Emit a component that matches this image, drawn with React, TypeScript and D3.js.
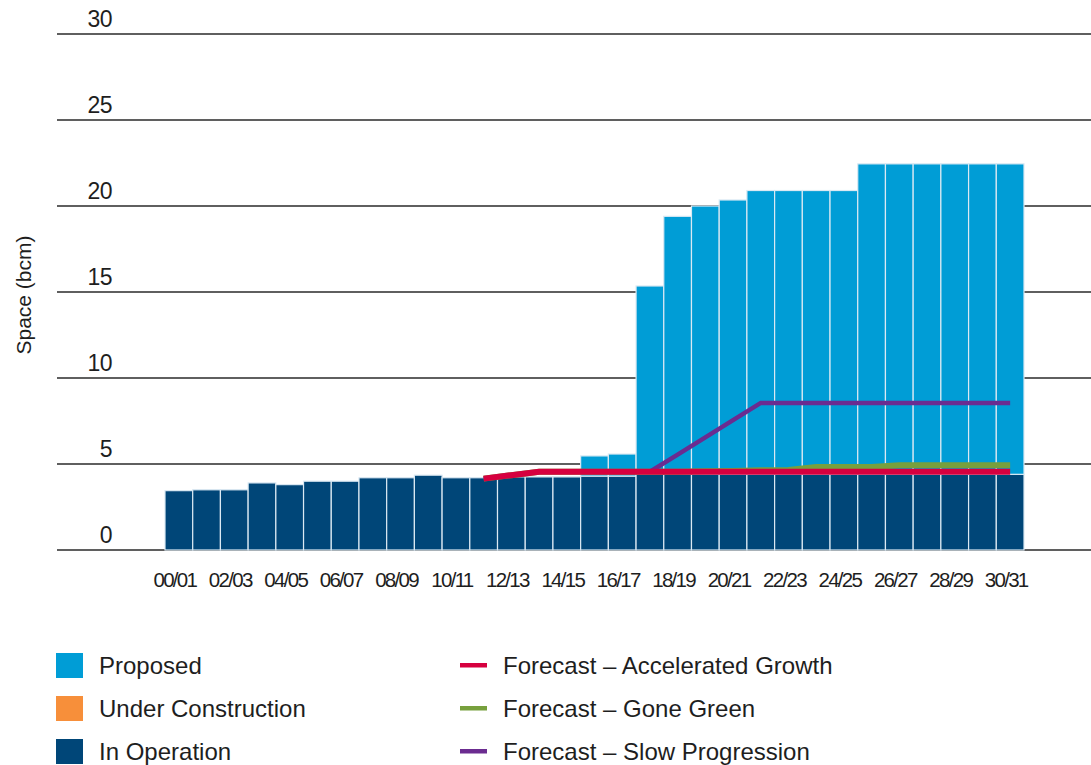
import React from 'react'
import * as d3 from 'd3'

// gas storage space, bcm
const years = [
  '00/01', '01/02', '02/03', '03/04', '04/05', '05/06', '06/07', '07/08',
  '08/09', '09/10', '10/11', '11/12', '12/13', '13/14', '14/15', '15/16',
  '16/17', '17/18', '18/19', '19/20', '20/21', '21/22', '22/23', '23/24',
  '24/25', '25/26', '26/27', '27/28', '28/29', '29/30', '30/31'
]
const tickLabels = [
  '00/01', '02/03', '04/05', '06/07', '08/09', '10/11', '12/13', '14/15',
  '16/17', '18/19', '20/21', '22/23', '24/25', '26/27', '28/29', '30/31'
]
const yTicks = [0, 5, 10, 15, 20, 25, 30]

const inOperation = [
  3.45, 3.5, 3.5, 3.9, 3.8, 4.0, 4.0, 4.2, 4.2, 4.35, 4.2, 4.2, 4.25, 4.25, 4.25, 4.3,
  4.3, 4.4, 4.4, 4.4, 4.4, 4.4, 4.4, 4.4, 4.4, 4.4, 4.4, 4.4, 4.4, 4.4, 4.4
]
const underConstruction = [
  0, 0, 0, 0, 0, 0, 0, 0, 0, 0, 0, 0, 0, 0, 0, 0,
  0, 0, 0, 0, 0, 0, 0, 0, 0, 0, 0, 0, 0, 0, 0
]
const proposed = [
  0, 0, 0, 0, 0, 0, 0, 0, 0, 0, 0, 0, 0, 0, 0, 1.17,
  1.28, 10.95, 15.0, 15.6, 15.95, 16.5, 16.5, 16.5, 16.5, 18.05, 18.05, 18.05, 18.05, 18.05, 18.05
]

const accelerated = [
  null, null, null, null, null, null, null, null, null, null, null, 4.15, 4.35, 4.55, 4.55, 4.55,
  4.55, 4.55, 4.55, 4.55, 4.55, 4.55, 4.55, 4.55, 4.55, 4.55, 4.55, 4.55, 4.55, 4.55, 4.55
]
const goneGreen = [
  null, null, null, null, null, null, null, null, null, null, null, 4.15, 4.35, 4.55, 4.55, 4.55,
  4.55, 4.55, 4.55, 4.58, 4.6, 4.63, 4.65, 4.83, 4.83, 4.83, 4.93, 4.93, 4.93, 4.93, 4.93
]
const slowProgression = [
  null, null, null, null, null, null, null, null, null, null, null, 4.15, 4.35, 4.55, 4.55, 4.55,
  4.55, 4.55, 5.55, 6.55, 7.55, 8.55, 8.55, 8.55, 8.55, 8.55, 8.55, 8.55, 8.55, 8.55, 8.55
]

const C = {
  proposed: '#009dd6',
  construction: '#f78f3a',
  operation: '#004678',
  red: '#d6003f',
  green: '#77a03d',
  purple: '#6b2c90',
  text: '#1e1e1e'
}

const W = 1091
const H = 765
const font = '"Liberation Sans", Arial, sans-serif'

export default function App() {
  const x = d3.scaleBand<string>().domain(years).range([165, 1024]).padding(0)
  const y = d3.scaleLinear().domain([0, 30]).range([550, 34])

  const line = d3
    .line<number | null>()
    .defined(d => d != null)
    .x((_, i) => (x(years[i]) as number) + x.bandwidth() / 2)
    .y(d => y(d as number))

  const barRows = years.map((yr, i) => {
    const op = inOperation[i]
    const uc = underConstruction[i]
    const pr = proposed[i]
    return { yr, segs: [
      { y0: 0, y1: op, c: C.operation },
      { y0: op, y1: op + uc, c: C.construction },
      { y0: op + uc, y1: op + uc + pr, c: C.proposed }
    ] }
  })

  const legendLeft = [
    { label: 'Proposed', c: C.proposed },
    { label: 'Under Construction', c: C.construction },
    { label: 'In Operation', c: C.operation }
  ]
  const legendRight = [
    { label: 'Forecast – Accelerated Growth', c: C.red },
    { label: 'Forecast – Gone Green', c: C.green },
    { label: 'Forecast – Slow Progression', c: C.purple }
  ]

  return (
    <svg width={W} height={H} style={{ position: 'absolute', left: 0, top: 0 }} fontFamily={font}>
      <rect width={W} height={H} fill="#fff" />

      {/* grid + y labels */}
      {yTicks.map(t => (
        <g key={t}>
          <line x1={57} x2={W} y1={y(t)} y2={y(t)} stroke="#2a2a2a" strokeWidth={1.5} />
          <text x={112} y={y(t) - 7} textAnchor="end" fontSize={23} letterSpacing={-0.5} fill={C.text}>{t}</text>
        </g>
      ))}

      <text
        transform={`translate(31,295) rotate(-90)`}
        textAnchor="middle"
        fontSize={21}
        fill={C.text}
      >Space (bcm)</text>

      {/* stacked bars */}
      {barRows.map(b => (
        <g key={b.yr}>
          {b.segs.filter(s => s.y1 > s.y0).map((s, j) => (
            <rect
              key={j}
              x={x(b.yr)}
              width={x.bandwidth()}
              y={y(s.y1)}
              height={y(s.y0) - y(s.y1)}
              fill={s.c}
              stroke="#dbe9f3"
              strokeWidth={1.2}
            />
          ))}
        </g>
      ))}

      {/* forecast lines */}
      <path d={line(goneGreen) || ''} fill="none" stroke={C.green} strokeWidth={6} />
      <path d={line(slowProgression) || ''} fill="none" stroke={C.purple} strokeWidth={4.5} />
      <path d={line(accelerated) || ''} fill="none" stroke={C.red} strokeWidth={6} />

      {/* x labels */}
      {tickLabels.map(l => (
        <text
          key={l}
          x={(x(l) as number) + x.bandwidth() / 2 - 4}
          y={587}
          textAnchor="middle"
          fontSize={20.5}
          letterSpacing={-1.7}
          fill={C.text}
        >{l}</text>
      ))}

      {/* legend */}
      {legendLeft.map((d, i) => (
        <g key={d.label} transform={`translate(56,${653 + i * 43})`}>
          <rect width={27} height={25} fill={d.c} />
          <text x={43} y={21} fontSize={24} fill={C.text}>{d.label}</text>
        </g>
      ))}
      {legendRight.map((d, i) => (
        <g key={d.label} transform={`translate(460,${653 + i * 43})`}>
          <rect y={10} width={27} height={4.5} fill={d.c} />
          <text x={43} y={21} fontSize={24} fill={C.text}>{d.label}</text>
        </g>
      ))}
    </svg>
  )
}
